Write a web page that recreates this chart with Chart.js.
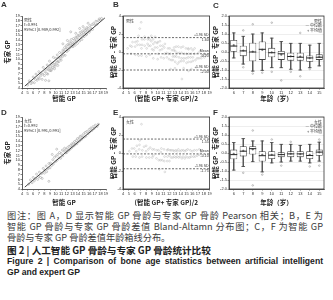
<!DOCTYPE html>
<html>
<head>
<meta charset="utf-8">
<script src="https://cdn.jsdelivr.net/npm/chart.js@4.4.0/dist/chart.umd.min.js"></script>
<style>
  html, body { margin: 0; padding: 0; background: #fff; overflow: hidden; width: 333px; height: 300px; }
  #page { position: relative; width: 333px; height: 300px; overflow: hidden; font-family: "Noto Sans CJK SC", "Noto Sans", sans-serif; }
  canvas { position: absolute; }
  .cap { position: absolute; left: 7px; width: 316px; white-space: nowrap; font-size: 9.2px; line-height: 11px; color: #3c3c3c; }
  .just { text-align: justify; text-align-last: justify; }
  .bold { font-weight: bold; color: #222; }
  .en { font-family: "Liberation Sans", sans-serif; font-size: 8.6px; }
</style>
</head>
<body>
<div id="page">
<canvas id="chartA" width="111" height="102" style="left:0;top:0"></canvas>
<canvas id="chartB" width="106" height="102" style="left:108px;top:0"></canvas>
<canvas id="chartC" width="122" height="102" style="left:211px;top:0"></canvas>
<canvas id="chartD" width="111" height="105" style="left:0;top:101px"></canvas>
<canvas id="chartE" width="106" height="105" style="left:108px;top:101px"></canvas>
<canvas id="chartF" width="122" height="105" style="left:211px;top:101px"></canvas>

<div class="cap just" style="top:209.5px">图注：图 A，D 显示智能 GP 骨龄与专家 GP 骨龄 Pearson 相关；B，E 为</div>
<div class="cap just" style="top:221px">智能 GP 骨龄与专家 GP 骨龄差值 Bland-Altamn 分布图；C，F 为智能 GP</div>
<div class="cap" style="top:232px">骨龄与专家 GP 骨龄差值年龄箱线分布。</div>
<div class="cap bold" style="top:244.5px;font-size:9.6px">图 2 | 人工智能 GP 骨龄与专家 GP 骨龄统计比较</div>
<div class="cap bold en just" id="capEn" style="top:256px">Figure 2 | Comparison of bone age statistics between artificial intelligent</div>
<div class="cap bold en" style="top:266.5px">GP and expert GP</div>
</div>

<script>
// ===== 骨龄比较 - 数据 =====

// [智能 GP, 专家 GP] 男性
const malePairs = [
    [5.0, 4.6], [5.3, 5.5], [5.6, 4.9], [5.8, 5.2], [6.0, 6.3], [6.2, 5.1], [6.4, 5.8], [6.5, 6.9],
    [6.7, 5.6], [6.9, 6.1], [7.0, 7.4], [7.1, 5.9], [7.3, 6.5], [7.4, 7.0], [7.6, 5.8], [7.7, 6.9],
    [7.8, 8.3], [8.0, 6.6], [8.1, 7.4], [8.2, 5.6], [8.3, 7.9], [8.4, 7.0], [8.5, 8.8], [8.6, 6.9],
    [8.7, 7.8], [8.8, 5.5], [8.8, 8.1], [8.9, 9.6], [9.0, 7.6], [9.1, 8.4], [9.2, 7.6], [9.2, 8.9],
    [9.3, 7.9], [9.4, 9.2], [9.5, 8.3], [9.6, 10.4], [9.7, 8.8], [9.8, 8.0], [9.8, 9.3], [9.9, 8.5],
    [10.0, 10.2], [10.1, 9.0], [10.2, 9.7], [10.3, 10.9], [10.4, 8.7], [10.4, 9.4], [10.5, 10.3],
    [10.6, 9.5], [10.7, 11.4], [10.8, 10.1], [10.9, 10.6], [11.0, 9.8], [11.1, 11.3], [11.2, 10.5],
    [11.3, 11.9], [11.3, 13.2], [11.4, 10.9], [11.5, 11.6], [11.6, 12.4], [11.7, 10.8], [11.8, 12.0],
    [11.9, 12.8], [12.0, 11.6], [12.1, 12.3], [12.1, 13.9], [12.2, 13.1], [12.3, 11.9], [12.4, 12.9],
    [12.5, 13.6], [12.6, 12.4], [12.7, 13.2], [12.7, 15.7], [12.8, 14.1], [12.9, 12.7], [13.0, 13.5],
    [13.1, 12.6], [13.1, 13.0], [13.2, 14.3], [13.3, 13.4], [13.4, 14.0], [13.5, 12.9], [13.6, 14.6],
    [13.6, 15.4], [13.7, 13.8], [13.8, 14.5], [13.9, 13.3], [14.0, 15.0], [14.1, 14.2], [14.2, 14.9],
    [14.3, 13.8], [14.3, 16.4], [14.4, 15.6], [14.5, 14.7], [14.6, 15.3], [14.7, 14.1], [14.8, 15.9],
    [14.9, 15.1], [14.9, 16.8], [15.0, 15.6], [15.1, 14.7], [15.2, 16.3], [15.3, 15.5], [15.4, 16.0],
    [15.5, 15.1], [15.5, 15.2], [15.6, 16.6], [15.7, 15.9], [15.8, 16.4], [15.8, 17.5], [16.0, 15.6],
    [16.1, 17.0], [16.2, 16.0], [16.3, 16.5], [16.5, 17.2], [16.6, 16.2], [16.8, 17.5], [17.0, 17.1],
    [17.2, 17.9], [17.4, 17.3], [17.6, 18.0], [17.8, 18.4], [18.0, 18.2], [18.2, 18.5]
];

// [智能 GP, 专家 GP] 女性
const femalePairs = [
    [5.2, 5.0], [5.5, 5.9], [5.8, 5.3], [6.0, 6.4], [6.2, 5.7], [6.4, 6.2], [6.6, 7.1], [6.8, 6.0],
    [7.0, 6.6], [7.1, 7.5], [7.3, 6.4], [7.5, 7.2], [7.6, 6.2], [7.8, 8.3], [8.0, 7.3], [8.1, 7.9],
    [8.3, 8.8], [8.4, 7.6], [8.6, 8.2], [8.8, 5.6], [8.8, 9.3], [9.0, 8.4], [9.1, 9.4], [9.3, 8.9],
    [9.4, 11.2], [9.5, 10.1], [9.6, 9.2], [9.8, 10.6], [10.0, 9.7], [10.1, 10.9], [10.2, 12.3],
    [10.3, 10.0], [10.4, 11.2], [10.6, 10.5], [10.7, 11.6], [10.9, 10.4], [11.0, 11.4], [11.2, 12.1],
    [11.3, 10.9], [11.5, 11.9], [11.6, 12.5], [11.8, 11.5], [11.9, 12.2], [12.0, 11.6], [12.1, 12.6],
    [12.3, 12.0], [12.4, 12.9], [12.5, 12.2], [12.7, 13.1], [12.8, 12.5], [12.9, 13.4], [13.0, 12.8],
    [13.2, 13.6], [13.3, 13.0], [13.4, 13.9], [13.5, 13.3], [13.7, 14.1], [13.8, 13.4], [13.9, 14.5],
    [14.0, 13.8], [14.2, 14.6], [14.3, 14.0], [14.4, 15.0], [14.6, 14.3], [14.7, 15.1], [14.8, 14.6],
    [15.0, 15.5], [15.1, 14.8], [15.3, 15.8], [15.4, 15.0], [15.6, 16.0], [15.8, 15.5], [16.0, 16.4],
    [16.1, 15.9], [16.3, 16.7], [16.5, 16.2], [16.7, 17.0], [16.9, 16.6], [17.1, 17.3], [17.4, 17.0],
    [17.6, 17.5]
];

// 回归线端点
const maleFit = [[4.5, 4.4], [18.8, 18.6]];
const femaleFit = [[4.5, 4.4], [17.8, 17.5]];

// Bland-Altman: +1.96 SD, Mean, -1.96 SD
const maleLimits = [1.6, -0.2, -2.0];
const femaleLimits = [1.55, -0.1, -1.75];

// 箱线图 (年龄, 岁)
const ages = ['6', '7', '8', '9', '10', '11', '12', '13', '14', '15'];
const maleMin = [-0.33, -0.67, -1.06, -1.02, -0.87, -0.87, -0.96, -1.0, -0.87, -0.77];
const maleQ1 = [0.0, -0.23, -0.52, -0.44, -0.29, -0.44, -0.48, -0.48, -0.54, -0.44];
const maleMedian = [0.33, 0.06, 0.0, 0.15, -0.04, -0.1, -0.25, -0.29, -0.33, -0.29];
const maleMean = [0.38, 0.08, 0.02, 0.12, -0.02, -0.15, -0.24, -0.25, -0.34, -0.27];
const maleQ3 = [0.67, 0.35, 0.52, 0.58, 0.23, 0.06, -0.04, -0.04, -0.19, -0.13];
const maleMax = [1.06, 0.87, 1.0, 1.06, 0.77, 0.58, 0.48, 0.48, 0.38, 0.48];
const maleOutliers = [['7', 1.2], ['7', -0.85], ['8', 1.54], ['8', -1.2], ['9', -1.15], ['10', 1.63],
    ['10', -1.1], ['11', -1.58], ['12', -1.1], ['13', 1.06], ['13', -1.35], ['14', -0.95]];

const femaleMin = [-0.95, -0.75, -0.48, -1.05, -0.55, -0.5, -0.45, -0.45, -0.55, -0.45];
const femaleQ1 = [-0.35, -0.19, -0.09, -0.47, -0.34, -0.23, -0.23, -0.23, -0.34, -0.15];
const femaleMedian = [-0.09, 0.1, 0.24, -0.15, -0.12, -0.09, -0.05, -0.05, -0.14, 0.05];
const femaleMean = [-0.05, 0.12, 0.2, -0.1, -0.1, -0.08, -0.04, -0.06, -0.1, 0.04];
const femaleQ3 = [0.19, 0.38, 0.38, 0.1, 0.1, 0.04, 0.1, 0.1, 0.1, 0.19];
const femaleMax = [0.58, 0.8, 0.67, 0.67, 0.58, 0.48, 0.48, 0.42, 0.48, 0.6];
const femaleOutliers = [['7', -1.1], ['8', 1.25], ['8', -1.8], ['9', -1.2], ['10', 0.75], ['11', -0.7],
    ['12', 0.62], ['14', -0.75], ['15', 0.75], ['15', -0.7]];

const gpRange = [4, 19];
const diffRange = [-4, 4];
const boxRange = [-2, 2];

// ===== 样式 =====
const INK = '#333';
const TICK_FONT = { size: 4, family: '"Liberation Sans", sans-serif' };
const TITLE_FONT = { size: 6.5, weight: 'bold', family: '"Noto Sans CJK SC", sans-serif', lineHeight: 1.2 };
const SMALL = '4px "Noto Sans CJK SC", sans-serif';
const LETTER = 'bold 8px "Liberation Sans", sans-serif';

// 文字与边框插件
Chart.register({
    id: 'panelText',
    afterDraw(chart, args, opts) {
        const ctx = chart.ctx;
        const area = chart.chartArea;
        ctx.save();
        if (opts.frame) {
            ctx.strokeStyle = INK;
            ctx.lineWidth = 0.8;
            ctx.strokeRect(area.left, area.top, area.right - area.left, area.bottom - area.top);
        }
        (opts.items || []).forEach(t => {
            ctx.font = t.font || SMALL;
            ctx.fillStyle = t.color || INK;
            ctx.textAlign = t.align || 'left';
            ctx.textBaseline = 'middle';
            const x = t.fromRight ? area.right - t.x : t.x;
            const y = t.yv !== undefined ? chart.scales.y.getPixelForValue(t.yv) + t.y : t.y;
            ctx.fillText(t.text, x, y);
        });
        ctx.restore();
    }
});

function linearAxis(range, step, title, size, horizontal, titlePad, fmt) {
    return {
        type: 'linear', min: range[0], max: range[1],
        ticks: {
            stepSize: step, autoSkip: false, maxRotation: 0, font: TICK_FONT, color: INK, padding: 0.5,
            callback: fmt || (v => v)
        },
        grid: { drawOnChartArea: false, tickLength: 1.5, color: INK, lineWidth: 0.6 },
        border: { color: INK, width: 0.8 },
        title: { display: true, text: title, font: TITLE_FONT, color: '#222', padding: titlePad },
        afterFit: s => { if (horizontal) s.height = size; else s.width = size; }
    };
}

function baseOptions(padding, scales, texts) {
    return {
        responsive: false,
        maintainAspectRatio: false,
        animation: false,
        devicePixelRatio: 1,
        layout: { padding },
        scales,
        plugins: { legend: { display: false }, tooltip: { enabled: false }, panelText: texts }
    };
}

function toPoints(pairs) {
    return pairs.map(p => ({ x: p[0], y: p[1] }));
}

// A / D: Pearson 相关散点
function scatterPanel(id, pairs, fit, letter, letterY, legend, xHeight) {
    new Chart(document.getElementById(id), {
        type: 'scatter',
        data: {
            datasets: [
                { data: toPoints(pairs), pointRadius: 1, pointBorderWidth: 0.5, borderColor: '#9a9a9a', backgroundColor: 'rgba(0,0,0,0)', order: 2 },
                { type: 'line', data: toPoints(fit), borderColor: INK, borderWidth: 0.9, pointRadius: 0, order: 1 }
            ]
        },
        options: baseOptions(
            { top: 16, right: 5, left: 0, bottom: 0 },
            {
                x: linearAxis(gpRange, 1, '智能 GP', xHeight, true, { top: 0, bottom: 0 }),
                y: linearAxis(gpRange, 1, '专家 GP', 22, false, { top: 4, bottom: 0 })
            },
            {
                items: [
                    { text: letter, x: 1, y: letterY, font: LETTER },
                    { text: legend[0], x: 24, y: 20 },
                    { text: legend[1], x: 24, y: 24.5 },
                    { text: legend[2], x: 24, y: 29 }
                ]
            }
        )
    });
}

// B / E: Bland-Altman
function blandAltmanPanel(id, pairs, limits, letter, letterY, sex, xHeight) {
    const points = pairs.map(p => ({ x: (p[0] + p[1]) / 2, y: p[0] - p[1] }));
    const hLine = v => [{ x: gpRange[0], y: v }, { x: gpRange[1], y: v }];
    const names = ['+1.96 SD', 'Mean', '-1.96 SD'];
    const items = [{ text: letter, x: 5, y: letterY, font: LETTER }, { text: sex, x: 18, y: 21 }];
    limits.forEach((v, i) => {
        items.push({ text: names[i], x: 1, fromRight: true, align: 'right', yv: v, y: -2.5, font: '3.5px "Liberation Sans", sans-serif' });
        items.push({ text: v.toFixed(2), x: 1, fromRight: true, align: 'right', yv: v, y: 2.5, font: '3.5px "Liberation Sans", sans-serif' });
    });
    new Chart(document.getElementById(id), {
        type: 'scatter',
        data: {
            datasets: [
                { data: points, pointRadius: 0.9, pointBorderWidth: 0.4, borderColor: '#b0b0b0', backgroundColor: 'rgba(0,0,0,0)', order: 2 },
                ...limits.map(v => ({ type: 'line', data: hLine(v), borderColor: '#444', borderWidth: 0.8, borderDash: [2, 1.5], pointRadius: 0, order: 1 }))
            ]
        },
        options: baseOptions(
            { top: 16, right: 3, left: 0, bottom: 0 },
            {
                x: linearAxis(gpRange, 1, '(智能 GP+ 专家 GP)/2', xHeight, true, { top: 0, bottom: 0 }),
                y: linearAxis(diffRange, 2, '智能 GP - 专家 GP', 15, false, { top: 2, bottom: 0 })
            },
            { frame: true, items }
        )
    });
}

// C / F: 年龄箱线图
function boxPanel(id, stats, outliers, letter, letterY, sex, xHeight) {
    const pts = arr => arr.map((v, i) => ({ x: ages[i], y: v }));
    new Chart(document.getElementById(id), {
        type: 'bar',
        data: {
            labels: ages,
            datasets: [
                { data: stats.min.map((v, i) => [v, stats.max[i]]), backgroundColor: '#555', barThickness: 0.8, grouped: false, order: 5 },
                { data: stats.q1.map((v, i) => [v, stats.q3[i]]), backgroundColor: '#fff', borderColor: '#444', borderWidth: 0.8, borderSkipped: false, barPercentage: 0.74, categoryPercentage: 1, grouped: false, order: 4 },
                { type: 'line', data: pts(stats.min).concat(pts(stats.max)), showLine: false, pointStyle: 'line', pointRadius: 1.8, pointBorderWidth: 0.8, borderColor: '#444', order: 3 },
                { type: 'line', data: pts(stats.median), showLine: false, pointStyle: 'line', pointRadius: 3.5, pointBorderWidth: 1, borderColor: '#222', order: 2 },
                { type: 'line', data: pts(stats.mean), showLine: false, pointStyle: 'cross', pointRadius: 1.2, pointBorderWidth: 0.6, borderColor: '#333', order: 1 },
                { type: 'line', data: outliers.map(o => ({ x: o[0], y: o[1] })), showLine: false, pointStyle: 'circle', pointRadius: 0.8, pointBorderWidth: 0.5, borderColor: '#888', backgroundColor: 'rgba(0,0,0,0)', order: 0 }
            ]
        },
        options: baseOptions(
            { top: 16, right: 9, left: 0, bottom: 0 },
            {
                x: {
                    type: 'category',
                    ticks: { autoSkip: false, maxRotation: 0, font: TICK_FONT, color: INK, padding: 0.5 },
                    grid: { drawOnChartArea: false, offset: false, tickLength: 1.5, color: INK, lineWidth: 0.6 },
                    border: { color: INK, width: 0.8 },
                    title: { display: true, text: '年龄（岁）', font: TITLE_FONT, color: '#222', padding: { top: 0, bottom: 0 } },
                    afterFit: s => { s.height = xHeight; }
                },
                y: {
                    type: 'linear', min: boxRange[0], max: boxRange[1],
                    ticks: { stepSize: 0.5, autoSkip: false, font: TICK_FONT, color: INK, padding: 0.5, callback: v => v.toFixed(1) },
                    grid: { color: '#dcdcdc', lineWidth: 0.5, tickColor: INK, tickLength: 1.5 },
                    border: { color: INK, width: 0.8 },
                    title: { display: true, text: '智能 GP - 专家 GP', font: TITLE_FONT, color: '#222', padding: { top: 1, bottom: 0 } },
                    afterFit: s => { s.width = 18; }
                }
            },
            {
                frame: true,
                items: [
                    { text: letter, x: 2, y: letterY, font: LETTER },
                    { text: sex, x: 2, fromRight: true, align: 'right', y: 21 },
                    { text: '— 中位数', x: 2, fromRight: true, align: 'right', y: 25.5 },
                    { text: '+ 平均值', x: 2, fromRight: true, align: 'right', y: 30 }
                ]
            }
        )
    });
}

document.addEventListener('DOMContentLoaded', () => {
    const maleStats = { min: maleMin, q1: maleQ1, median: maleMedian, mean: maleMean, q3: maleQ3, max: maleMax };
    const femaleStats = { min: femaleMin, q1: femaleQ1, median: femaleMedian, mean: femaleMean, q3: femaleQ3, max: femaleMax };

    scatterPanel('chartA', malePairs, maleFit, 'A', 5, ['男性', 'r=0.991', '95%CI [0.989,0.992]'], 14);
    blandAltmanPanel('chartB', malePairs, maleLimits, 'B', 5, '男性', 14);
    boxPanel('chartC', maleStats, maleOutliers, 'C', 6, '男性', 14);

    scatterPanel('chartD', femalePairs, femaleFit, 'D', 12, ['女性', 'r=0.992', '95%CI [0.991,0.993]'], 17);
    blandAltmanPanel('chartE', femalePairs, femaleLimits, 'E', 12, '女性', 17);
    boxPanel('chartF', femaleStats, femaleOutliers, 'F', 12, '女性', 17);

    // 英文标题缩放到一行
    const en = document.getElementById('capEn');
    let size = 8.6;
    while (en.scrollWidth > 316 && size > 6) {
        size -= 0.2;
        en.style.fontSize = size + 'px';
    }
});
</script>
</body>
</html>
